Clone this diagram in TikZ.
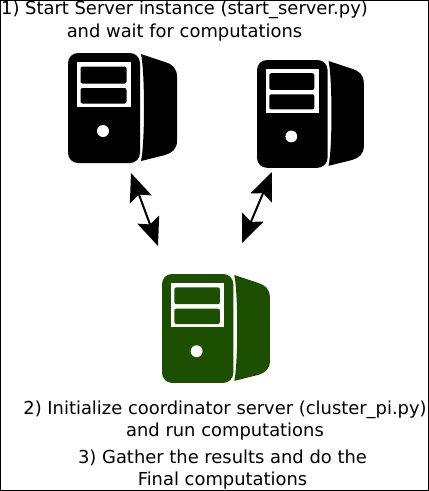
\documentclass[tikz,border=0pt]{standalone}
\usepackage{fontspec}
\setmainfont{DejaVu Sans}
\usetikzlibrary{arrows.meta}
\definecolor{servergreen}{HTML}{1C5000}
\tikzset{
  label text/.style={align=center,font=\fontsize{17.9}{22.5}\selectfont,inner sep=0pt},
  link/.style={{Stealth[length=28pt,width=23pt,inset=5pt]}-{Stealth[length=28pt,width=23pt,inset=5pt]},line width=2pt},
  pics/server/.style={code={
    \fill[#1,rounded corners=10pt] (0,0) rectangle (72,110);
    \fill[white] (9,9) rectangle (63,54);
    \fill[#1,rounded corners=2pt] (12.5,13.5) rectangle (58.5,30.5);
    \fill[#1,rounded corners=2pt] (12.5,35) rectangle (58.5,50.5);
    \fill[white] (35,78) circle (6);
    \fill[#1] (73,1) -- (97,9) .. controls (104,11) and (109,15) .. (109,24)
      -- (109,88) .. controls (109,96) and (104,100) .. (97,102)
      -- (73,108) .. controls (77,90) and (77,20) .. (73,1) -- cycle;
  }}
}
\begin{document}
\begin{tikzpicture}[x=1pt,y=-1pt]
\useasboundingbox (0,0) rectangle (429,491);
\fill[white] (0,0) rectangle (429,491);

\pic (serverA) at (68,53) {server=black};
\pic[scale=.98] (serverB) at (257,60) {server=black};
\pic[scale=.99] (serverC) at (162,274) {server=servergreen};

\coordinate (linkAtop) at (131,173);
\coordinate (linkAbot) at (158,246);
\coordinate (linkBtop) at (272,172);
\coordinate (linkBbot) at (242,243);
\draw[link] (linkAtop) -- (linkAbot);
\draw[link] (linkBtop) -- (linkBbot);

\node[label text] (startText) at (184.5,21) {1) Start Server instance (start\_server.py)\\and wait for computations};
\node[label text] (runText) at (225,420.5) {2) Initialize coordinator server (cluster\_pi.py)\\and run computations};
\node[label text] (gatherText) at (222.5,469.5) {3) Gather the results and do the\\Final computations};

\draw[line width=1pt] (0.5,0.5) rectangle (428.5,490.5);
\end{tikzpicture}
\end{document}
